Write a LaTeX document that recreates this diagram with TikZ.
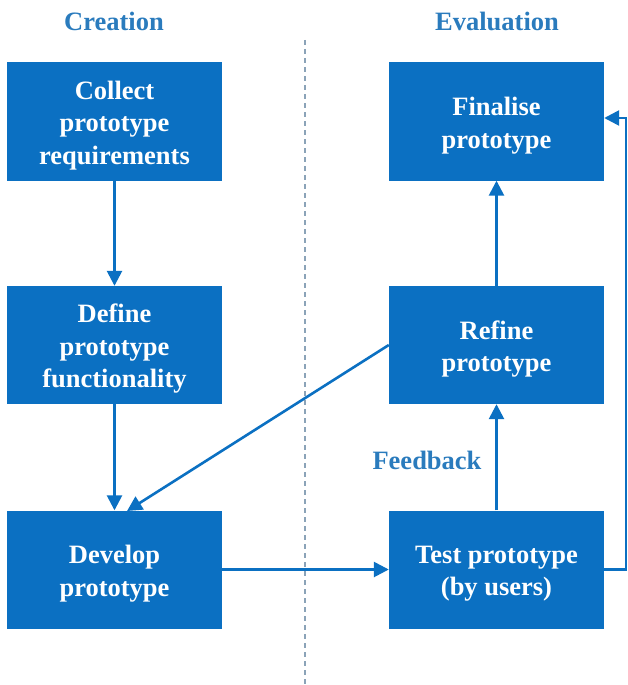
\documentclass[tikz,border=0pt]{standalone}
\usepackage{fontspec}
\setmainfont{Liberation Serif}
\usetikzlibrary{arrows.meta}
\definecolor{boxblue}{HTML}{0B70C2}
\definecolor{headblue}{HTML}{2A7BBD}
\definecolor{dashgray}{HTML}{8BA3B8}
\tikzset{
  stepbox/.style={fill=boxblue, draw=none, minimum width=215pt, minimum height=118pt, inner sep=0pt},
  lbl/.style={text=white, font=\bfseries\fontsize{26.5}{32.5}\selectfont, align=center, yshift=-4pt},
  head/.style={text=headblue, font=\bfseries\fontsize{26.5}{30}\selectfont},
  conn/.style={draw=boxblue, line width=2.6pt, -{Triangle[length=15pt,width=15pt]}},
}
\begin{document}
\begin{tikzpicture}[x=1pt,y=-1pt]
\useasboundingbox (0,0) rectangle (628,685);
\draw[dashgray, line width=2pt, dash pattern=on 5pt off 4pt] (305,40) -- (305,685);
\node[head] (hc) at (114,21) {Creation};
\node[head] (he) at (497,21) {Evaluation};
\node[stepbox, label={[lbl]center:{Collect\\prototype\\requirements}}] (collect) at (114.5,121.5) {};
\node[stepbox, label={[lbl]center:{Define\\prototype\\functionality}}] (define) at (114.5,345) {};
\node[stepbox, label={[lbl]center:{Develop\\prototype}}] (develop) at (114.5,569.5) {};
\node[stepbox, label={[lbl]center:{Finalise\\prototype}}] (final) at (496.5,121.5) {};
\node[stepbox, label={[lbl]center:{Refine\\prototype}}] (refine) at (496.5,345) {};
\node[stepbox, label={[lbl]center:{Test prototype\\(by users)}}] (test) at (496.5,569.5) {};
\node[head, anchor=east] (fb) at (485,460) {Feedback};
\coordinate (dtop) at (127,511);
\coordinate (r1) at (626,569.5);
\coordinate (r2) at (626,118);
\draw[conn] (collect.south) -- (define.north);
\draw[conn] (define.south) -- (develop.north);
\draw[conn] (refine.west) -- (dtop);
\draw[conn] (develop.east) -- (test.west);
\draw[conn] (test.north) -- (refine.south);
\draw[conn] (refine.north) -- (final.south);
\draw[conn] (test.east) -- (r1) -- (r2) -- (final.east |- r2);
\end{tikzpicture}
\end{document}
